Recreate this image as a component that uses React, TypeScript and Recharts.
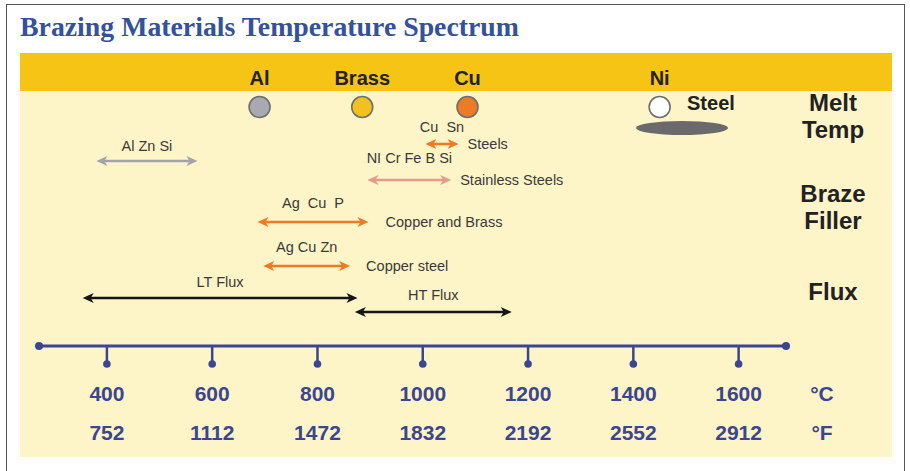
import { ComposedChart, XAxis, YAxis, Scatter, ReferenceLine, ReferenceArea, ReferenceDot } from "recharts"

// melting points (°C)
const meltMetals = ["Al", "Brass", "Cu", "Ni"]
const meltTemps = [690, 885, 1085, 1450]
const meltColors = ["#a9a9b1", "#f3c11e", "#ec7b26", "#ffffff"]

const steelName = "Steel"
const steelRange = [1405, 1580]

// braze filler ranges (°C)
const fillerAlloys = ["Al Zn Si", "Cu  Sn", "NI Cr Fe B Si", "Ag  Cu  P", "Ag Cu Zn"]
const fillerLow = [380, 1005, 895, 686, 697]
const fillerHigh = [572, 1068, 1054, 897, 862]
const fillerUses = ["", "Steels", "Stainless Steels", "Copper and Brass", "Copper steel"]
const fillerColors = ["#a3a3ab", "#ee7a22", "#e49b8f", "#ee7a22", "#ee7a22"]

// flux ranges (°C)
const fluxNames = ["LT Flux", "HT Flux"]
const fluxLow = [354, 871]
const fluxHigh = [876, 1169]

const celsiusTicks = [400, 600, 800, 1000, 1200, 1400, 1600]
const fahrenheitLabels = ["752", "1112", "1472", "1832", "2192", "2552", "2912"]

const sectionLabels = [["Melt", "Temp"], ["Braze", "Filler"], ["Flux"]]

// layout only: vertical rows measured down from the band (px)
const ROWS = {
  melt: 16,
  steel: [30, 44],
  filler: [70, 53, 89, 131, 175],
  fillerLift: [10, 12, 17, 14, 14],
  noteGap: [0, 9, 9, 17, 16],
  flux: [207, 221],
  fluxLift: [11, 12],
  sections: [25, 116, 201],
}
const DOMAIN: [number, number] = [271, 1690]
const NAVY = "#3b4690"
const FONT = "'Liberation Sans', Arial, sans-serif"

const meltData = meltMetals.map((m, i) => ({ name: m, temp: meltTemps[i], row: ROWS.melt, color: meltColors[i] }))

const Arrow = (p: any) => {
  const { x1, y1, x2, color, name, note, lift, gap, sw } = p
  const y = y1
  const h = 11
  const w = 5
  return (
    <g>
      <line x1={x1 + 5} y1={y} x2={x2 - 5} y2={y} stroke={color} strokeWidth={sw} />
      <path d={`M${x1},${y} L${x1 + h},${y - w} L${x1 + h - 3},${y} L${x1 + h},${y + w} Z`} fill={color} />
      <path d={`M${x2},${y} L${x2 - h},${y - w} L${x2 - h + 3},${y} L${x2 - h},${y + w} Z`} fill={color} />
      <text
        x={(x1 + x2) / 2}
        y={y - lift}
        textAnchor="middle"
        fontFamily={FONT}
        fontSize={14.5}
        fill="#3a3a3a"
        style={{ whiteSpace: "pre" }}
      >
        {name}
      </text>
      {note ? (
        <text x={x2 + gap} y={y + 5} fontFamily={FONT} fontSize={14.5} fill="#3a3a3a">
          {note}
        </text>
      ) : null}
    </g>
  )
}

const MeltDot = (p: any) => (
  <circle cx={p.cx} cy={p.cy} r={10.5} fill={p.payload.color} stroke="#6f6f6f" strokeWidth={1.6} />
)

const SteelShape = (p: any) => (
  <g>
    <ellipse cx={p.x + p.width / 2} cy={p.y + p.height / 2} rx={p.width / 2} ry={p.height / 2} fill="#6a6a6c" />
    <text x={p.x + p.width / 2 + 5} y={p.y - 11} fontFamily={FONT} fontWeight="bold" fontSize={20} fill="#222">
      {steelName}
    </text>
  </g>
)

const MeltTick = (p: any) => (
  <text x={p.x} y={p.y + 2} textAnchor="middle" fontFamily={FONT} fontWeight="bold" fontSize={20} fill="#222">
    {meltMetals[p.index]}
  </text>
)

const ScaleTick = (p: any) => {
  const { x, y, payload, index } = p
  return (
    <g>
      <line x1={x} y1={y - 8} x2={x} y2={y + 10} stroke={NAVY} strokeWidth={2.5} />
      <circle cx={x} cy={y + 10} r={3.8} fill={NAVY} />
      <text x={x} y={y + 47} textAnchor="middle" fontFamily={FONT} fontWeight="bold" fontSize={21} fill={NAVY}>
        {payload.value}
      </text>
      <text x={x} y={y + 86} textAnchor="middle" fontFamily={FONT} fontWeight="bold" fontSize={21} fill={NAVY}>
        {fahrenheitLabels[index]}
      </text>
    </g>
  )
}

const UnitLabels = (p: any) => {
  const vb = p.viewBox
  const x = vb.x + vb.width + 36
  return (
    <g>
      <text x={x} y={vb.y + 55} textAnchor="middle" fontFamily={FONT} fontWeight="bold" fontSize={21} fill={NAVY}>
        °C
      </text>
      <text x={x} y={vb.y + 94} textAnchor="middle" fontFamily={FONT} fontWeight="bold" fontSize={21} fill={NAVY}>
        °F
      </text>
    </g>
  )
}

const SectionTick = (p: any) => {
  const lines = sectionLabels[p.index]
  const top = p.y - (lines.length - 1) * 13.5
  return (
    <text x={p.x + 39} y={top + 8} textAnchor="middle" fontFamily={FONT} fontWeight="bold" fontSize={24} fill="#222">
      {lines.map((l: string, i: number) => (
        <tspan key={l} x={p.x + 39} dy={i === 0 ? 0 : 27}>
          {l}
        </tspan>
      ))}
    </text>
  )
}

export default function App() {
  return (
    <div style={{ position: "absolute", left: 0, top: 0, width: 910, height: 471, background: "#fff", overflow: "hidden" }}>
      <div style={{ position: "absolute", left: 6, top: 4, width: 897, height: 490, border: "1.5px solid #555" }} />
      <div style={{ position: "absolute", left: 20, top: 53, width: 872, height: 404, background: "#fdf4c8" }} />
      <div style={{ position: "absolute", left: 20, top: 53, width: 872, height: 38, background: "#f5c414" }} />
      <div
        style={{
          position: "absolute",
          left: 20,
          top: 11,
          fontFamily: "'Liberation Serif', serif",
          fontWeight: "bold",
          fontSize: 27.8,
          color: "#34519c",
          whiteSpace: "nowrap",
        }}
      >
        Brazing Materials Temperature Spectrum
      </div>
      <div style={{ position: "absolute", left: 0, top: 0 }}>
        <ComposedChart width={910} height={471} data={meltData} margin={{ top: 61, right: 0, bottom: 25, left: 39 }}>
          <XAxis
            xAxisId="top"
            orientation="top"
            type="number"
            dataKey="temp"
            domain={DOMAIN}
            allowDataOverflow
            ticks={meltTemps}
            height={30}
            axisLine={false}
            tickLine={false}
            tick={<MeltTick />}
            interval={0}
          />
          <XAxis
            type="number"
            dataKey="temp"
            domain={DOMAIN}
            allowDataOverflow
            ticks={celsiusTicks}
            height={100}
            axisLine={{ stroke: NAVY, strokeWidth: 3 }}
            tickLine={false}
            tick={<ScaleTick />}
            interval={0}
            label={{ content: <UnitLabels /> }}
          />
          <YAxis
            type="number"
            dataKey="row"
            orientation="right"
            domain={[0, 255]}
            reversed
            allowDataOverflow
            ticks={ROWS.sections}
            width={124}
            axisLine={false}
            tickLine={false}
            tick={<SectionTick />}
            interval={0}
          />
          <ReferenceDot x={DOMAIN[0]} y={255} r={4} fill={NAVY} stroke="none" ifOverflow="visible" />
          <ReferenceDot x={DOMAIN[1]} y={255} r={4} fill={NAVY} stroke="none" ifOverflow="visible" />
          <ReferenceArea
            x1={steelRange[0]}
            x2={steelRange[1]}
            y1={ROWS.steel[0]}
            y2={ROWS.steel[1]}
            ifOverflow="visible"
            shape={(p: any) => <SteelShape {...p} />}
          />
          {fillerAlloys.map((name, i) => (
            <ReferenceLine
              key={name}
              segment={[
                { x: fillerLow[i], y: ROWS.filler[i] },
                { x: fillerHigh[i], y: ROWS.filler[i] },
              ]}
              ifOverflow="visible"
              shape={(p: any) => (
                <Arrow
                  {...p}
                  color={fillerColors[i]}
                  name={name}
                  note={fillerUses[i]}
                  lift={ROWS.fillerLift[i]}
                  gap={ROWS.noteGap[i]}
                  sw={2.6}
                />
              )}
            />
          ))}
          {fluxNames.map((name, i) => (
            <ReferenceLine
              key={name}
              segment={[
                { x: fluxLow[i], y: ROWS.flux[i] },
                { x: fluxHigh[i], y: ROWS.flux[i] },
              ]}
              ifOverflow="visible"
              shape={(p: any) => (
                <Arrow {...p} color="#151515" name={name} note="" lift={ROWS.fluxLift[i]} gap={0} sw={2.6} />
              )}
            />
          ))}
          <Scatter data={meltData} dataKey="row" shape={<MeltDot />} isAnimationActive={false} />
        </ComposedChart>
      </div>
    </div>
  )
}
